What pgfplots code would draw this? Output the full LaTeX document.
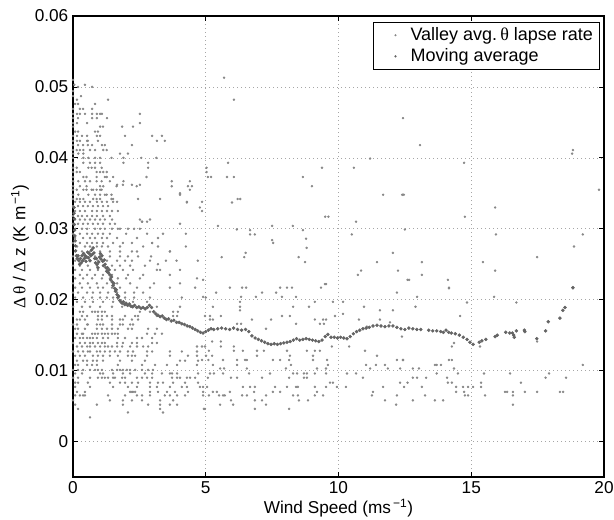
\documentclass[border=0pt]{standalone}
\usepackage{fontspec}
\setmainfont{Liberation Sans}
\newfontfamily\symf{Liberation Serif}
\usepackage{pgfplots}
\pgfplotsset{compat=1.18}
\definecolor{scat}{RGB}{135,135,135}
\definecolor{mav}{RGB}{100,100,100}
\begin{document}
\begin{tikzpicture}[font=\fontsize{12.9}{15}\selectfont]
\useasboundingbox (-54.75pt,-32.25pt) rectangle (405.75pt,357.75pt);
\begin{axis}[
    scale only axis,
    width=398.25pt,
    height=345.75pt,
    clip=false,
    xmin=0, xmax=20,
    ymin=-0.005, ymax=0.06,
    xtick={0,5,10,15,20},
    xticklabels={0,5,10,15,20},
    ytick={0,0.01,0.02,0.03,0.04,0.05,0.06},
    yticklabels={0,0.01,0.02,0.03,0.04,0.05,0.06},
    scaled y ticks=false,
    tick align=inside,
    major tick length=4pt,
    tick style={black, line width=0.6pt},
    axis line style={black, line width=0.8pt},
    grid=major,
    major grid style={gray!70, line width=0.5pt, dash pattern=on 0.6pt off 2.4pt},
    xlabel={Wind Speed (ms\textsuperscript{\,−1})},
    ylabel={{\symf Δ\,θ} / {\symf Δ} z (K m\textsuperscript{\,−1})},
    xlabel style={at={(axis description cs:0.5,-0.067)}, anchor=center},
    ylabel style={at={(axis description cs:-0.0998,0.5)}, anchor=center},
    legend style={at={(0.9925,0.987)}, anchor=north east, draw=black, line width=0.6pt,
        fill=white, inner xsep=3pt, inner ysep=2pt, row sep=0.5pt, font=\fontsize{13.5}{15}\selectfont},
    legend cell align=left,
    legend image code/.code={\path (-13pt,0pt) (9pt,0pt);
        \draw[#1, mark size=0.5pt] plot coordinates {(0pt,0pt)};},
]
% valley average lapse rate (raw)
\addplot[only marks, mark=*, mark size=0.7pt, color=scat] coordinates {
(0,0.051) (0.05,0.0503) (0.45,0.0503) (0.19,0.050) (0.72,0.050) (0,0.0494) (0.3,0.0487) (0,0.0487)
(0.15,0.0482) (1.32,0.0482) (0.08,0.0476) (0.19,0.0476) (0.83,0.0476)
(0,0.0469) (0.26,0.0469) (0.38,0.0469) (0.72,0.0469)
(0,0.0462) (0.15,0.0462) (0.26,0.0462) (0.45,0.0462) (0.72,0.0462) (0.9,0.0462) (1.02,0.0462) (1.09,0.0462) (2.52,0.0462)
(0,0.0456) (0.19,0.0456) (0.72,0.0456) (0.9,0.0456) (1.28,0.0456)
(0,0.0449) (0.15,0.0449) (0.53,0.0449) (2.52,0.0449)
(0,0.0444) (1.02,0.0444) (1.13,0.0444) (1.85,0.0444) (2.26,0.0444)
(0.08,0.0437) (0.19,0.0437) (0.83,0.0437) (0.94,0.0437)
(0,0.0431) (0.15,0.0431) (0.34,0.0431) (0.53,0.0431) (0.9,0.0431) (1.02,0.0431) (1.96,0.0431) (2.98,0.0431) (3.35,0.0431)
(0,0.0424) (0.15,0.0424) (0.26,0.0424) (0.53,0.0424) (0.56,0.0424) (0.94,0.0424) (3.16,0.0424) (3.46,0.0424)
(0,0.0418) (0.19,0.0418) (0.38,0.0418) (0.56,0.0418) (0.72,0.0418) (1.09,0.0418) (1.2,0.0418) (2.22,0.0418)
(0,0.0411) (0.14,0.0411) (0.26,0.0411) (0.39,0.0411) (0.64,0.0411) (0.83,0.0411) (1.14,0.0411) (1.27,0.0411)
(0,0.0406) (0.2,0.0406) (0.39,0.0406) (1.77,0.0406) (2.07,0.0406)
(0,0.0400) (0.39,0.0400) (0.58,0.0400) (0.83,0.0400) (1.02,0.0400) (1.45,0.0400) (1.9,0.0400) (2.57,0.0400) (3.14,0.0400)
(0,0.0393) (0.39,0.0393) (0.64,0.0393) (0.83,0.0393) (1.02,0.0393) (1.9,0.0393) (2.83,0.0393)
(0,0.0386) (0.14,0.0386) (0.58,0.0386) (0.7,0.0386) (0.83,0.0386) (1.08,0.0386) (2.83,0.0386) (5.03,0.0386)
(0,0.0380) (0.14,0.0380) (0.26,0.0380) (0.89,0.0380) (1.02,0.0380) (1.14,0.0380) (1.27,0.0380) (5.03,0.0380)
(0,0.0373) (0.39,0.0373) (0.51,0.0373) (0.89,0.0373) (1.2,0.0373) (1.27,0.0373) (1.51,0.0373) (2.77,0.0373)
(0,0.0367) (0.2,0.0367) (0.45,0.0367) (0.64,0.0367) (0.89,0.0367) (1.08,0.0367) (1.39,0.0367) (1.9,0.0367) (3.72,0.0367) (4.4,0.0367)
(0,0.0360) (0.26,0.0360) (0.51,0.0360) (1.02,0.0360) (1.14,0.0360) (1.64,0.0360) (2.4,0.0360) (3.72,0.0360) (4.33,0.0360) (4.48,0.0360)
(0,0.0355) (0.14,0.0355) (0.39,0.0355) (0.51,0.0355) (0.7,0.0355) (0.76,0.0355) (0.89,0.0355) (1.02,0.0355) (1.08,0.0355) (4.4,0.0355)
(0,0.0348) (0.2,0.0348) (0.58,0.0348) (0.83,0.0348) (1.02,0.0348) (1.2,0.0348) (1.27,0.0348) (1.45,0.0348) (4.03,0.0348)
(0,0.0342) (0.14,0.0342) (0.26,0.0342) (0.39,0.0342) (0.76,0.0342) (0.89,0.0342) (1.02,0.0342) (1.45,0.0342) (1.51,0.0342) (2.45,0.0342) (3.28,0.0342)
(0.08,0.0338) (0.26,0.0338) (0.45,0.0338) (0.64,0.0338) (0.9,0.0338) (1.09,0.0338) (1.28,0.0338) (1.51,0.0338) (1.66,0.0338) (4.86,0.0338) (4.29,0.0338)
(0,0.0332) (0.19,0.0332) (0.38,0.0332) (0.56,0.0332) (0.75,0.0332) (0.94,0.0332) (1.13,0.0332) (1.32,0.0332)
(0.08,0.0325) (0.26,0.0325) (0.45,0.0325) (0.72,0.0325) (0.9,0.0325) (1.09,0.0325) (1.28,0.0325) (1.47,0.0325) (1.69,0.0325) (4.86,0.0325)
(0,0.0318) (0.19,0.0318) (0.34,0.0318) (0.53,0.0318) (0.72,0.0318) (0.9,0.0318) (1.13,0.0318) (1.39,0.0318)
(0.08,0.0313) (0.26,0.0313) (0.45,0.0313) (0.64,0.0313) (0.83,0.0313) (1.02,0.0313) (1.2,0.0313) (1.47,0.0313) (2.52,0.0313) (2.9,0.0313) (2.6,0.0310) (2.79,0.0310)
(0,0.0307) (0.19,0.0307) (0.38,0.0307) (0.56,0.0307) (0.75,0.0307) (0.94,0.0307) (1.13,0.0307) (1.39,0.0307) (1.58,0.0307) (4.03,0.0307)
(0.08,0.0300) (0.34,0.0300) (0.53,0.0300) (0.83,0.0300) (1.02,0.0300) (1.2,0.0300) (1.47,0.0300) (1.69,0.0300) (1.77,0.0300) (2.07,0.0300) (2.3,0.0300) (2.52,0.0300)
(0,0.0293) (0.26,0.0293) (0.53,0.0293) (0.72,0.0293) (0.94,0.0293) (1.13,0.0293) (1.39,0.0293) (2.0,0.0293) (2.79,0.0293) (3.39,0.0293) (4.25,0.0293)
(0.08,0.0287) (0.38,0.0287) (0.64,0.0287) (0.83,0.0287) (1.09,0.0287) (1.28,0.0287) (1.66,0.0287) (2.41,0.0287) (3.2,0.0287)
(0,0.0280) (0.26,0.0280) (0.53,0.0280) (0.72,0.0280) (0.9,0.0280) (1.13,0.0280) (1.51,0.0280) (1.88,0.0280) (2.22,0.0280) (2.98,0.0280)
(0.15,0.0275) (0.45,0.0275) (0.64,0.0275) (0.9,0.0275) (1.09,0.0275) (1.32,0.0275) (1.77,0.0275) (2.64,0.0275) (3.2,0.0275) (4.25,0.0275)
(0.08,0.0268) (0.34,0.0268) (0.64,0.0268) (1.02,0.0268) (1.39,0.0268) (1.77,0.0268) (2.22,0.0268) (2.41,0.0268) (3.65,0.0268)
(0,0.0261) (0.19,0.0261) (0.45,0.0261) (0.83,0.0261) (1.09,0.0261) (1.39,0.0261) (1.77,0.0261) (2.07,0.0261) (2.45,0.0261) (2.94,0.0261)
(0.08,0.0255) (0.38,0.0255) (0.64,0.0255) (0.94,0.0255) (1.28,0.0255) (1.66,0.0255) (1.96,0.0255) (2.22,0.0255) (2.9,0.0255) (3.5,0.0255) (3.9,0.0255) (4.7,0.0255) (3.2,0.0250)
(0,0.0248) (0.26,0.0248) (0.56,0.0248) (0.9,0.0248) (1.13,0.0248) (1.47,0.0248) (1.77,0.0248) (2.15,0.0248) (2.71,0.0248)
(0.08,0.0242) (0.34,0.0242) (0.64,0.0242) (0.94,0.0242) (1.28,0.0242) (1.58,0.0242) (1.88,0.0242) (2.26,0.0242) (3.16,0.0242) (4.03,0.0242) (3.28,0.0242)
(0,0.0235) (0.26,0.0235) (0.53,0.0235) (0.83,0.0235) (1.13,0.0235) (1.47,0.0235) (2.07,0.0235) (2.64,0.0235) (3.65,0.0235)
(0.08,0.0230) (0.38,0.0230) (0.72,0.0230) (1.09,0.0230) (1.39,0.0230) (1.69,0.0230) (2.0,0.0230) (2.52,0.0230) (4.67,0.0230)
(0,0.0223) (0.26,0.0223) (0.56,0.0223) (0.9,0.0223) (1.28,0.0223) (1.66,0.0223) (2.15,0.0223) (3.05,0.0223) (4.03,0.0223)
(0.08,0.0217) (0.34,0.0217) (0.64,0.0217) (0.94,0.0217) (1.13,0.0217) (1.47,0.0217) (1.77,0.0217) (2.41,0.0217) (2.9,0.0217) (3.65,0.0217) (4.6,0.0217)
(0,0.0210) (0.19,0.0210) (0.53,0.0210) (0.75,0.0210) (1.02,0.0210) (1.32,0.0210) (1.66,0.0210) (1.96,0.0210) (2.3,0.0210) (2.64,0.0210)
(0.08,0.0203) (0.38,0.0203) (0.72,0.0203) (1.02,0.0203) (1.28,0.0203) (1.51,0.0203) (1.96,0.0203) (2.3,0.0203) (2.9,0.0203) (4.1,0.0203) (5.0,0.0203)
(0.15,0.0197) (0.45,0.0197) (0.75,0.0197) (1.13,0.0197) (1.51,0.0197) (1.88,0.0197) (2.26,0.0197) (2.79,0.0197)
(0,0.0190) (0.34,0.0190) (0.64,0.0190) (1.02,0.0190) (1.47,0.0190) (1.85,0.0190) (2.22,0.0190) (3.16,0.0190) (4.03,0.0190)
(0.26,0.0183) (0.38,0.0183) (0.72,0.0183) (0.83,0.0183) (0.94,0.0183) (1.09,0.0183) (1.2,0.0183) (2.52,0.0183) (2.9,0.0183) (3.77,0.0183) (3.95,0.0183)
(0,0.0177) (0.34,0.0177) (0.53,0.0177) (0.94,0.0177) (1.09,0.0177) (1.28,0.0177) (1.47,0.0177) (1.96,0.0177) (2.34,0.0177) (2.45,0.0177) (3.16,0.0177) (3.77,0.0177) (3.92,0.0177)
(0.15,0.0172) (0.26,0.0172) (0.45,0.0172) (0.94,0.0172) (1.09,0.0172) (1.47,0.0172) (1.77,0.0172) (1.88,0.0172) (2.22,0.0172) (2.45,0.0172)
(0,0.0165) (0.15,0.0165) (0.53,0.0165) (0.56,0.0165) (0.9,0.0165) (1.02,0.0165) (1.13,0.0165) (1.47,0.0165) (1.77,0.0165) (1.88,0.0165) (2.15,0.0165) (2.26,0.0165)
(0.08,0.0159) (0.19,0.0159) (0.45,0.0159) (0.9,0.0159) (1.09,0.0159) (1.28,0.0159) (1.47,0.0159) (1.69,0.0159) (2.07,0.0159) (2.22,0.0159) (2.83,0.0159) (3.16,0.0159)
(0.15,0.0152) (0.34,0.0152) (0.38,0.0152) (0.72,0.0152) (0.83,0.0152) (0.94,0.0152) (1.09,0.0152) (1.2,0.0152) (1.32,0.0152) (1.47,0.0152) (1.58,0.0152) (1.69,0.0152) (2.79,0.0152) (3.09,0.0152) (3.35,0.0152)
(0.08,0.0146) (0.26,0.0146) (0.38,0.0146) (0.53,0.0146) (0.64,0.0146) (0.75,0.0146) (0.9,0.0146) (1.13,0.0146) (1.32,0.0146) (1.69,0.0146) (1.96,0.0146) (2.41,0.0146) (2.6,0.0146) (2.98,0.0146)
(0,0.0139) (0.26,0.0139) (0.45,0.0139) (0.64,0.0139) (0.75,0.0139) (0.94,0.0139) (1.09,0.0139) (1.2,0.0139) (1.66,0.0139) (1.88,0.0139) (2.22,0.0139) (2.41,0.0139) (2.98,0.0139) (3.16,0.0139)
(0.15,0.0134) (0.34,0.0134) (0.53,0.0134) (0.64,0.0134) (0.83,0.0134) (1.02,0.0134) (1.2,0.0134) (1.32,0.0134) (1.47,0.0134) (1.66,0.0134) (1.85,0.0134) (2.15,0.0134) (2.41,0.0134) (2.64,0.0134) (2.83,0.0134) (4.67,0.0134) (4.86,0.0134)
(0,0.0127) (0.19,0.0127) (0.38,0.0127) (0.56,0.0127) (0.64,0.0127) (0.9,0.0127) (1.02,0.0127) (1.2,0.0127) (1.39,0.0127) (1.58,0.0127) (1.77,0.0127) (2.07,0.0127) (2.26,0.0127) (2.79,0.0127) (2.98,0.0127) (3.65,0.0127) (4.1,0.0127) (4.67,0.0127)
(0.08,0.0121) (0.26,0.0121) (0.45,0.0121) (0.75,0.0121) (0.94,0.0121) (1.13,0.0121) (1.39,0.0121) (1.69,0.0121) (2.07,0.0121) (2.22,0.0121) (2.34,0.0121) (2.79,0.0121) (3.65,0.0121) (4.33,0.0121) (4.67,0.0121)
(0.15,0.0114) (0.38,0.0114) (0.53,0.0114) (0.75,0.0114) (0.9,0.0114) (1.13,0.0114) (1.77,0.0114) (2.22,0.0114) (2.71,0.0114) (4.03,0.0114) (4.22,0.0114) (4.71,0.0114)
(0.08,0.0108) (0.19,0.0108) (0.53,0.0108) (0.72,0.0108) (0.9,0.0108) (1.69,0.0108) (2.6,0.0108) (3.09,0.0108) (3.54,0.0108) (3.92,0.0108) (4.67,0.0108)
(0,0.0101) (0.19,0.0101) (0.38,0.0101) (0.64,0.0101) (0.83,0.0101) (0.94,0.0101) (1.09,0.0101) (1.47,0.0101) (1.66,0.0101) (1.77,0.0101) (1.88,0.0101) (2.03,0.0101) (2.15,0.0101) (2.34,0.0101) (2.6,0.0101) (2.83,0.0101) (3.01,0.0101)
(0.08,0.0096) (0.34,0.0096) (1.02,0.0096) (1.13,0.0096) (1.51,0.0096) (1.88,0.0096) (2.15,0.0096) (2.71,0.0096) (2.98,0.0096) (3.35,0.0096) (3.65,0.0096) (3.73,0.0096) (3.92,0.0096) (4.71,0.0096)
(0,0.0090) (0.19,0.0090) (0.64,0.0090) (0.94,0.0090) (1.09,0.0090) (1.2,0.0090) (1.32,0.0090) (1.51,0.0090) (1.58,0.0090) (1.85,0.0090) (1.96,0.0090) (2.41,0.0090) (2.6,0.0090) (2.79,0.0090) (2.98,0.0090) (3.73,0.0090) (3.92,0.0090) (4.03,0.0090) (4.29,0.0090) (4.41,0.0090) (4.6,0.0090)
(0.08,0.0083) (0.19,0.0083) (0.56,0.0083) (1.39,0.0083) (1.77,0.0083) (1.96,0.0083) (2.22,0.0083) (2.45,0.0083) (2.9,0.0083) (3.2,0.0083) (3.39,0.0083) (3.77,0.0083) (4.22,0.0083) (4.71,0.0083)
(0.08,0.0077) (0.64,0.0077) (1.51,0.0077) (2.07,0.0077) (2.41,0.0077) (2.9,0.0077) (3.16,0.0077) (3.65,0.0077) (4.1,0.0077) (4.29,0.0077) (4.78,0.0077)
(0.15,0.0070) (0.45,0.0070) (2.15,0.0070) (2.22,0.0070) (2.26,0.0070) (2.34,0.0070) (2.9,0.0070) (3.2,0.0070) (3.54,0.0070) (3.84,0.0070) (4.33,0.0070)
(0.08,0.0065) (0.26,0.0065) (0.38,0.0065) (0.45,0.0065) (1.32,0.0065) (1.96,0.0065) (2.41,0.0065) (2.6,0.0065) (2.9,0.0065) (3.46,0.0065) (3.65,0.0065) (3.92,0.0065) (4.22,0.0065)
(0,0.0058) (1.39,0.0058) (1.88,0.0058) (2.22,0.0058) (2.6,0.0058) (3.28,0.0058) (3.77,0.0058)
(0.08,0.0052) (0.9,0.0052) (1.88,0.0052) (2.83,0.0052) (3.28,0.0052) (3.65,0.0052) (3.92,0.0052)
(0.19,0.0046) (3.28,0.0046) (4.97,0.0046) (2.07,0.0041) (3.39,0.0041) (0.64,0.0034)
(4.9,0.0228) (9.49,0.0222) (5.91,0.0217) (6.37,0.0217) (6.52,0.0217) (8.06,0.0217) (8.25,0.0217) (9.34,0.0217) (7.8,0.0217)
(5.39,0.0210) (7.12,0.0210) (7.65,0.0210) (12.2,0.0210) (6.89,0.0204) (7.87,0.0204) (8.4,0.0204) (4.9,0.0204) (6.33,0.0204)
(9.11,0.0197) (9.79,0.0197) (10.17,0.0197) (6.29,0.0197) (5.27,0.0190) (6.29,0.0190) (8.29,0.0190) (8.89,0.0190) (10.96,0.0190)
(6.29,0.0185) (11.56,0.0185) (12.05,0.0185) (4.97,0.0177) (5.16,0.0177) (5.57,0.0177) (7.87,0.0177) (8.17,0.0177) (9.87,0.0177) (10.17,0.0180)
(5.16,0.0172) (5.27,0.0172) (6.74,0.0172) (7.46,0.0172) (9.11,0.0172) (9.42,0.0172) (9.53,0.0172) (10.77,0.0172) (11.56,0.0172)
(11.94,0.0168) (8.4,0.0166) (9.3,0.0166) (9.45,0.0166) (6.18,0.0166) (6.33,0.0166) (7.27,0.0159) (11.07,0.0162)
(5.24,0.0141) (5.57,0.0141) (4.97,0.0134) (5.57,0.0134) (6.06,0.0134) (9.75,0.0134) (10.4,0.0134)
(5.12,0.0128) (6.06,0.0128) (6.4,0.0128) (6.93,0.0128) (7.19,0.0128) (8.06,0.0128) (8.81,0.0128) (9.11,0.0128) (9.3,0.0128) (11.0,0.0128)
(5.01,0.0121) (5.24,0.0121) (6.93,0.0121) (9.04,0.0121) (11.45,0.0121) (8.17,0.0121)
(4.86,0.0115) (5.1,0.0115) (5.65,0.0115) (6.18,0.0115) (6.48,0.0115) (6.55,0.0115) (7.53,0.0115) (7.8,0.0115) (8.14,0.0115) (9.04,0.0115) (9.57,0.0115) (12.2,0.0115) (12.43,0.0115)
(5.27,0.0108) (6.18,0.0108) (8.21,0.0108) (9.6,0.0108) (11.04,0.0108) (11.41,0.0108) (11.75,0.0108)
(5.54,0.0103) (5.69,0.0103) (6.55,0.0103) (8.02,0.0103) (9.19,0.0103) (9.53,0.0103) (12.32,0.0103) (11.19,0.0103) (11.86,0.0103)
(5.16,0.0096) (5.31,0.0096) (5.65,0.0096) (6.63,0.0096) (7.42,0.0096) (8.29,0.0096) (8.44,0.0096) (8.7,0.0096) (8.81,0.0096) (9.11,0.0096) (9.53,0.0096) (10.32,0.0096) (10.66,0.0096)
(5.08,0.0090) (5.95,0.0090) (6.18,0.0090) (7.12,0.0090) (8.14,0.0090) (8.7,0.0090) (8.81,0.0090) (9.68,0.0083) (9.79,0.0083) (10.92,0.0090)
(4.9,0.0077) (5.05,0.0077) (6.4,0.0077) (6.67,0.0077) (6.85,0.0077) (7.61,0.0077) (8.06,0.0077) (8.4,0.0077) (8.47,0.0077) (9.11,0.0077) (9.53,0.0077) (9.94,0.0077) (10.28,0.0077) (11.68,0.0077)
(4.9,0.0070) (5.27,0.0070) (5.42,0.0070) (5.91,0.0070) (6.82,0.0070) (7.53,0.0070) (7.8,0.0070) (9.19,0.0070) (11.3,0.0070)
(4.9,0.0065) (5.12,0.0065) (5.5,0.0065) (5.65,0.0065) (5.72,0.0065) (6.37,0.0065) (6.55,0.0065) (7.27,0.0065) (8.29,0.0065) (8.47,0.0065) (9.11,0.0065) (9.42,0.0065) (11.26,0.0065) (12.2,0.0065)
(5.95,0.0058) (6.85,0.0058) (7.12,0.0058) (8.51,0.0058) (8.85,0.0058) (11.75,0.0058)
(5.54,0.0052) (6.03,0.0052) (7.27,0.0052) (12.17,0.0052) (6.85,0.0046) (8.14,0.0046) (4.93,0.0046)
(12.6,0.0228) (14.12,0.0228) (14.16,0.0217) (18.83,0.0216) (12.96,0.0204) (15.86,0.0204) (12.9,0.0190) (14.58,0.0177) (14.84,0.0196) (16.7,0.0196)
(12.39,0.0148) (14.27,0.0134) (14.35,0.0139) (15.33,0.0134) (17.48,0.0141) (12.43,0.0115) (14.16,0.0115) (14.27,0.0115) (19.2,0.0108)
(13.63,0.0108) (13.7,0.0108) (13.86,0.0108) (12.8,0.0103) (13.03,0.0103) (14.35,0.0103)
(12.8,0.0090) (12.96,0.0090) (13.3,0.0090) (13.7,0.0096) (14.5,0.0096) (15.48,0.0096) (16.46,0.0096) (17.93,0.0096)
(12.32,0.0083) (12.6,0.0083) (14.09,0.0090) (14.12,0.0083) (14.27,0.0083) (15.37,0.0083) (16.87,0.0083) (17.8,0.0090) (18.57,0.0090)
(12.47,0.0077) (13.14,0.0077) (14.43,0.0077) (14.69,0.0077) (14.88,0.0077) (15.07,0.0077) (15.37,0.0077)
(14.43,0.0070) (14.73,0.0070) (16.27,0.0070) (16.35,0.0070) (16.57,0.0070) (17.02,0.0070) (17.48,0.0070) (18.34,0.0070) (18.46,0.0070)
(13.26,0.0065) (14.76,0.0065) (14.88,0.0065) (15.52,0.0065) (16.57,0.0065) (12.8,0.0058) (13.63,0.0058) (13.94,0.0058) (16.57,0.0052)
(5.69,0.0513) (6.06,0.0482) (12.43,0.0456) (13.07,0.0418) (18.83,0.0411) (18.8,0.0406) (19.81,0.0355) (5.84,0.0393)
(5.08,0.0373) (5.2,0.0373) (5.8,0.0373) (6.06,0.0373) (5.99,0.0337) (6.2,0.0342) (6.3,0.0342) (4.78,0.0330) (5.46,0.0304)
(6.67,0.0298) (6.67,0.0292) (6.85,0.0292) (6.17,0.0299) (7.5,0.0304) (8.28,0.0304) (7.5,0.0284) (7.54,0.0280)
(8.66,0.0373) (9.0,0.0360) (9.38,0.0386) (9.5,0.0317) (9.62,0.0317) (8.66,0.0298) (8.78,0.0286) (8.8,0.0273) (8.5,0.0260) (8.74,0.0253)
(5.6,0.0260) (6.45,0.0260) (6.5,0.0266) (10.58,0.0386) (11.19,0.0399) (11.68,0.0348) (12.4,0.0348) (12.46,0.0348)
(10.66,0.0310) (10.5,0.0292) (12.05,0.0266) (12.5,0.0299) (14.73,0.0393) (14.76,0.0317) (15.9,0.0330) (15.93,0.0292)
(17.48,0.0260) (18.87,0.0275) (19.2,0.0292) (11.45,0.0253) (13.14,0.0253) (12.24,0.0241) (13.14,0.0235) (12.66,0.0228)
(14.16,0.0216) (15.44,0.0253) (15.9,0.0241) (10.73,0.0235) (10.85,0.0241) (9.53,0.0222)
(2.6,0.0310) (4.29,0.0337) (4.03,0.0350) (2.22,0.0362) (2.52,0.0362) (1.88,0.0362) (1.66,0.0362) (3.65,0.0268) (2.98,0.0280)
};
\addlegendentry{Valley avg.\,{\symf θ} lapse rate\hspace{8pt}}
% moving average
\addplot[only marks, mark=*, mark size=1.1pt, color=mav] coordinates {
(0.04,0.0330) (0.04,0.0322) (0.05,0.0314) (0.05,0.0306) (0.06,0.0298) (0.07,0.0290) (0.08,0.0283) (0.09,0.0276)
(0.10,0.0269) (0.13,0.0262) (0.16,0.0258) (0.19,0.0262) (0.22,0.0255) (0.25,0.0250) (0.28,0.0258) (0.31,0.0252)
(0.34,0.0262) (0.37,0.0255) (0.40,0.0265) (0.43,0.0258) (0.46,0.0262) (0.49,0.0254) (0.52,0.0260) (0.55,0.0267)
(0.58,0.0259) (0.61,0.0265) (0.64,0.0255) (0.67,0.0262) (0.70,0.0270) (0.73,0.0264) (0.76,0.0273) (0.79,0.0266)
(0.82,0.0258) (0.85,0.0252) (0.88,0.0258) (0.91,0.0250) (0.94,0.0245) (0.97,0.0253) (1.00,0.0260) (1.03,0.0265)
(1.06,0.0257) (1.09,0.0262) (1.12,0.0254) (1.15,0.0248) (1.18,0.0256) (1.21,0.0250) (1.24,0.0245) (1.27,0.0240)
(1.30,0.0245) (1.33,0.0238) (1.36,0.0242) (1.39,0.0235) (1.42,0.0228) (1.45,0.0232) (1.48,0.0225) (1.51,0.0220)
(1.54,0.0223) (1.57,0.0216) (1.60,0.0212) (1.63,0.0214) (1.66,0.0207) (1.69,0.0203) (1.72,0.0205) (1.76,0.0199)
(1.80,0.0197) (1.85,0.0195) (1.90,0.0197) (1.95,0.0193) (2.00,0.0195) (2.06,0.0192) (2.12,0.0194) (2.18,0.0191)
(2.25,0.0190) (2.32,0.0192) (2.40,0.0189) (2.48,0.0190) (2.56,0.0188) (2.64,0.0189) (2.72,0.0187) (2.80,0.0189)
(2.88,0.0192) (2.96,0.0189) (3.04,0.0183) (3.12,0.0180) (3.20,0.0178) (3.28,0.0176) (3.36,0.0177) (3.44,0.0174)
(3.52,0.0172) (3.60,0.0173) (3.70,0.0170) (3.80,0.0171) (3.90,0.0168) (4.00,0.0168) (4.10,0.0166) (4.20,0.0165)
(4.30,0.0163) (4.40,0.0162) (4.50,0.0160) (4.60,0.0158) (4.70,0.0156) (4.80,0.0154) (4.90,0.0153) (5.00,0.0155)
(5.10,0.0157) (5.20,0.0159) (5.30,0.0158) (5.45,0.0159) (5.60,0.0160) (5.75,0.0159) (5.90,0.0158) (6.05,0.0160)
(6.20,0.0158) (6.35,0.0157) (6.50,0.0158) (6.62,0.0155) (6.74,0.0149) (6.86,0.0146) (6.98,0.0144) (7.10,0.0142)
(7.22,0.0140) (7.34,0.0138) (7.46,0.0137) (7.58,0.0138) (7.70,0.0137) (7.82,0.0138) (7.94,0.0139) (8.06,0.0140)
(8.18,0.0141) (8.30,0.0143) (8.42,0.0145) (8.54,0.0143) (8.66,0.0144) (8.78,0.0145) (8.90,0.0144) (9.02,0.0143)
(9.14,0.0142) (9.26,0.0141) (9.38,0.0143) (9.50,0.0148) (9.60,0.0151) (9.72,0.0147) (9.84,0.0147) (9.96,0.0146)
(10.08,0.0147) (10.20,0.0146) (10.32,0.0145) (10.44,0.0148) (10.56,0.0152) (10.68,0.0155) (10.80,0.0157) (10.92,0.0159)
(11.04,0.0160) (11.16,0.0161) (11.30,0.0163) (11.45,0.0164) (11.60,0.0163) (11.75,0.0162) (11.90,0.0163) (12.05,0.0163)
(12.20,0.0161) (12.35,0.0159) (12.50,0.0158) (12.65,0.0160) (12.80,0.0159) (12.95,0.0158) (13.10,0.0158) (13.40,0.0157)
(13.55,0.0156) (13.70,0.0156) (13.85,0.0155) (13.95,0.0154) (14.05,0.0157) (14.15,0.0154) (14.25,0.0153) (14.40,0.0152)
(14.55,0.0150) (14.70,0.0147) (14.84,0.0144) (14.95,0.0140) (15.07,0.0137) (15.30,0.0140) (15.40,0.0142) (15.55,0.0144)
(15.90,0.0148) (15.98,0.0150) (16.30,0.0154) (16.45,0.0153) (16.55,0.0153) (16.60,0.0150) (16.62,0.0147) (16.70,0.0156)
(17.00,0.0157) (17.02,0.0155) (17.47,0.0145) (17.80,0.0156) (17.90,0.0169) (18.34,0.0174) (18.45,0.0185) (18.53,0.0189)
(18.83,0.0217)
};
\addlegendentry{Moving average}
\end{axis}
\end{tikzpicture}
\end{document}
